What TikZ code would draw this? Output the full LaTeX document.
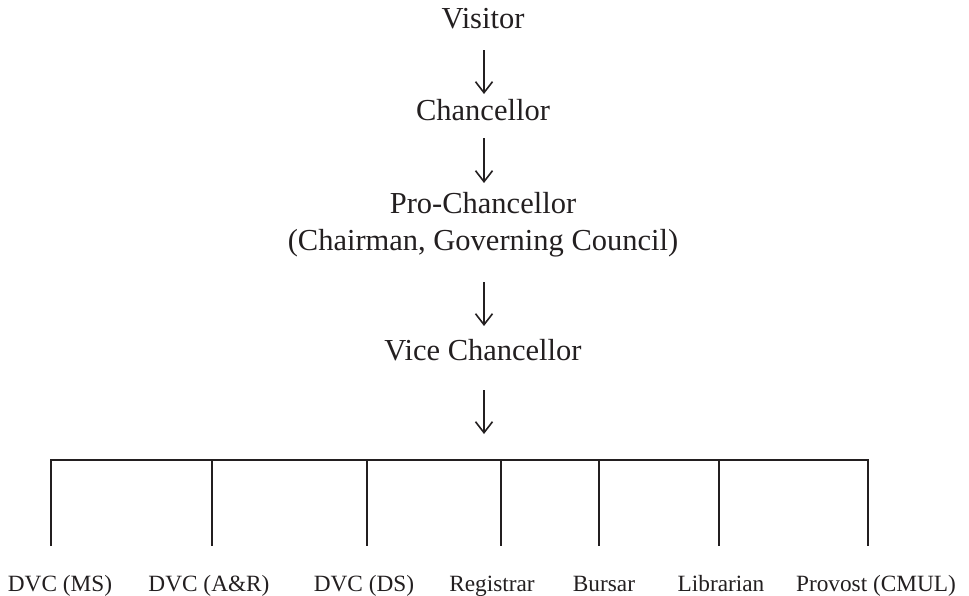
\documentclass[tikz,border=0pt]{standalone}
\usepackage{fontspec}
\setmainfont{Liberation Serif}
\usetikzlibrary{arrows.meta}
\definecolor{ink}{HTML}{231F20}
\tikzset{
  big/.style={font=\fontsize{30.5}{37}\selectfont, text=ink, inner sep=0pt, anchor=base, align=center},
  small/.style={font=\fontsize{23.3}{28}\selectfont, text=ink, inner sep=0pt, anchor=base},
  arr/.style={draw=ink, line width=1.6pt, -{Straight Barb[length=11pt,width=17pt,line width=1.6pt]}},
  tree/.style={draw=ink, line width=2.4pt},
}
\begin{document}
\begin{tikzpicture}[x=1pt,y=-1pt]
\useasboundingbox (0,0) rectangle (969,595);
% hierarchy
\node[big] (visitor) at (483,28) {Visitor};
\node[big] (chanc) at (483,120) {Chancellor};
\node[big] (pro) at (483,250) {Pro-Chancellor\\(Chairman, Governing Council)};
\node[big] (vc) at (483,360) {Vice Chancellor};
% arrow ends
\coordinate (a1s) at (484,50);  \coordinate (a1e) at (484,94);
\coordinate (a2s) at (484,138); \coordinate (a2e) at (484,183);
\coordinate (a3s) at (484,282); \coordinate (a3e) at (484,326);
\coordinate (a4s) at (484,390); \coordinate (a4e) at (484,434);
\draw[arr] (a1s) -- (a1e);
\draw[arr] (a2s) -- (a2e);
\draw[arr] (a3s) -- (a3e);
\draw[arr] (a4s) -- (a4e);
% bottom labels
\node[small] (ms)   at (60,591)  {DVC (MS)};
\node[small] (ar)   at (209,591) {DVC (A\&R)};
\node[small] (ds)   at (364,591) {DVC (DS)};
\node[small] (reg)  at (492,591) {Registrar};
\node[small] (bur)  at (604,591) {Bursar};
\node[small] (lib)  at (721,591) {Librarian};
\node[small] (prov) at (876,591) {Provost (CMUL)};
% tree
\coordinate (t1) at (51,460);  \coordinate (b1) at (51,546);
\coordinate (t2) at (212,460); \coordinate (b2) at (212,546);
\coordinate (t3) at (367,460); \coordinate (b3) at (367,546);
\coordinate (t4) at (501,460); \coordinate (b4) at (501,546);
\coordinate (t5) at (599,460); \coordinate (b5) at (599,546);
\coordinate (t6) at (719,460); \coordinate (b6) at (719,546);
\coordinate (t7) at (868,460); \coordinate (b7) at (868,546);
\draw[tree, line join=miter] (b1) -- (t1) -- (t7) -- (b7);
\draw[tree] (t2) -- (b2);
\draw[tree] (t3) -- (b3);
\draw[tree] (t4) -- (b4);
\draw[tree] (t5) -- (b5);
\draw[tree] (t6) -- (b6);
\end{tikzpicture}
\end{document}
